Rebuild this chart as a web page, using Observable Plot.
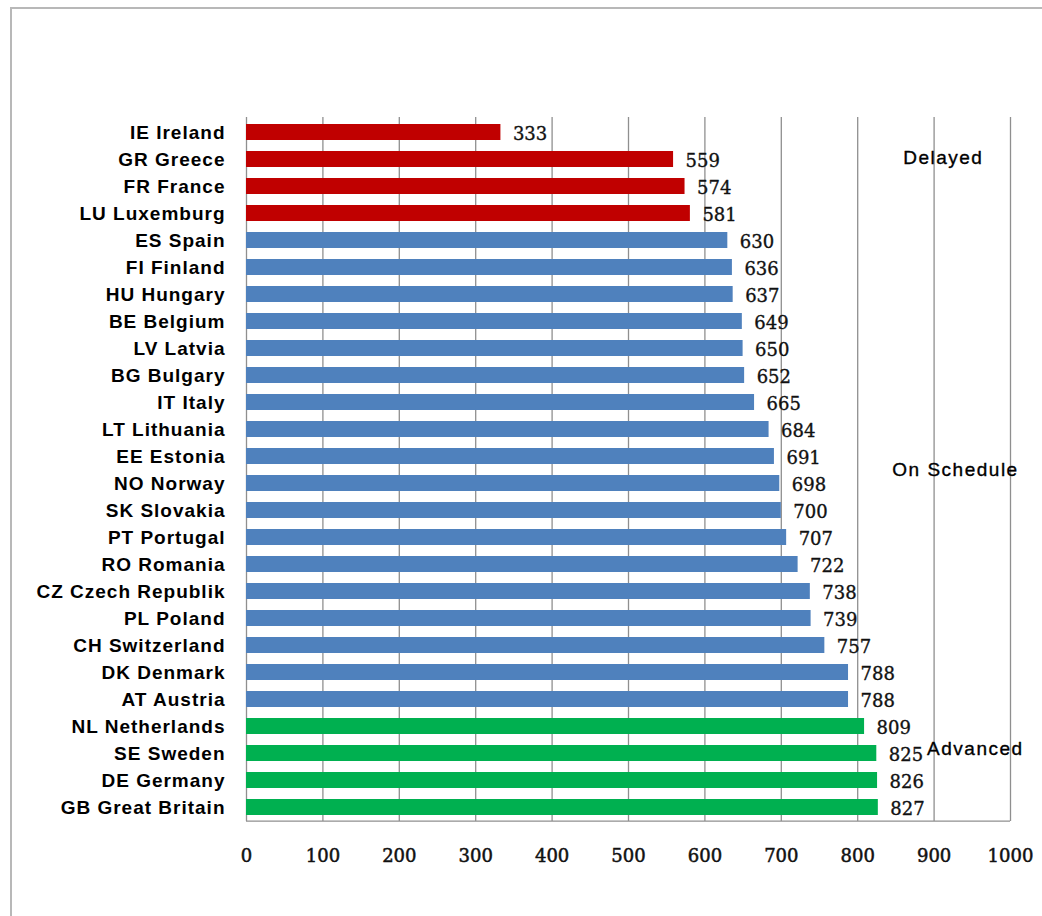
<!DOCTYPE html>
<html><head><meta charset="utf-8">
<script src="https://cdn.jsdelivr.net/npm/d3@7"></script>
<script src="https://cdn.jsdelivr.net/npm/@observablehq/plot@0.6"></script>
<style>
html,body{margin:0;padding:0;background:#fff;overflow:hidden;width:1042px;height:916px;}
#wrap{position:relative;width:1042px;height:916px;overflow:hidden;}
#border{position:absolute;left:10px;top:7px;width:1100px;height:1000px;border:2px solid #b8b8b8;box-sizing:border-box;}
#chart{position:absolute;left:0;top:0;}
</style></head><body>
<div id="wrap"><div id="border"></div><div id="chart"></div></div>
<script>
const countries = ["IE Ireland","GR Greece","FR France","LU Luxemburg","ES Spain","FI Finland","HU Hungary","BE Belgium","LV Latvia","BG Bulgary","IT Italy","LT Lithuania","EE Estonia","NO Norway","SK Slovakia","PT Portugal","RO Romania","CZ Czech Republik","PL Poland","CH Switzerland","DK Denmark","AT Austria","NL Netherlands","SE Sweden","DE Germany","GB Great Britain"];
const values = [333,559,574,581,630,636,637,649,650,652,665,684,691,698,700,707,722,738,739,757,788,788,809,825,826,827];
const statuses = ["Delayed","Delayed","Delayed","Delayed","On Schedule","On Schedule","On Schedule","On Schedule","On Schedule","On Schedule","On Schedule","On Schedule","On Schedule","On Schedule","On Schedule","On Schedule","On Schedule","On Schedule","On Schedule","On Schedule","On Schedule","On Schedule","Advanced","Advanced","Advanced","Advanced"];
const statusNames = ["Delayed","On Schedule","Advanced"];
const statusColors = ["#C00000","#4F81BD","#00B050"];
const xTicks = [0,100,200,300,400,500,600,700,800,900,1000];
const annotationLabels = ["Delayed","On Schedule","Advanced"];
const annotationX = [912,928,954];
const annotationRow = ["GR Greece","NO Norway","SE Sweden"];

const data = countries.map((c,i)=>({country:c, value:values[i], status:statuses[i]}));

const W = 1042, H = 916, mT = 117, mB = 95;
const step = (H - mT - mB) / countries.length;
const annotationDy = [-2, -14, -5];

const sansFont = "'Liberation Sans', Arial, sans-serif";
const serifFont = "'DejaVu Serif', serif";

const plot = Plot.plot({
  width: W, height: H,
  marginLeft: 246, marginRight: 32, marginTop: mT, marginBottom: mB,
  style: {background: "transparent", fontFamily: sansFont, color: "#000"},
  x: {domain: [0, 1000], ticks: xTicks, tickFormat: d => String(d)},
  y: {domain: countries, paddingInner: 0.41, paddingOuter: 0.205},
  color: {domain: statusNames, range: statusColors},
  marks: [
    Plot.ruleX(xTicks, {stroke: "#8f8f8f", strokeWidth: 1.3}),
    Plot.ruleY([countries[countries.length - 1]], {dy: step / 2, stroke: "#8f8f8f", strokeWidth: 1.3}),
    Plot.barX(data, {x: "value", y: "country", fill: "status"}),
    Plot.text(data, {x: "value", y: "country", text: d => String(d.value), textAnchor: "start", dx: 12, dy: 2, fontFamily: serifFont, fontSize: 18, fill: "#111", stroke: "#111", strokeWidth: 0.35}),
    ...annotationLabels.map((lab, i) => Plot.text([lab], {x: () => annotationX[i], y: () => annotationRow[i], text: d => d, dy: annotationDy[i], fontFamily: sansFont, fontSize: 19, fill: "#000", stroke: "#000", strokeWidth: 0.35})),
    Plot.axisX(xTicks, {tickSize: 0, tickPadding: 28, fontFamily: serifFont, fontSize: 18, fill: "#111", label: null, tickFormat: d => String(d)}),
    Plot.axisY({tickSize: 0, tickPadding: 21, fontFamily: sansFont, fontSize: 19, fontWeight: "bold", fill: "#000", label: null})
  ]
});
document.getElementById("chart").appendChild(plot);
d3.select(plot).selectAll('[aria-label="y-axis tick label"] text').style("letter-spacing", "1px");
d3.select(plot).selectAll('[aria-label="x-axis tick label"] text').style("stroke", "#111").style("stroke-width", "0.5px").style("paint-order", "stroke");
d3.select(plot).selectAll("text").filter(function(){ return annotationLabels.includes(this.textContent); }).style("letter-spacing", "1.5px");
</script>
</body></html>
